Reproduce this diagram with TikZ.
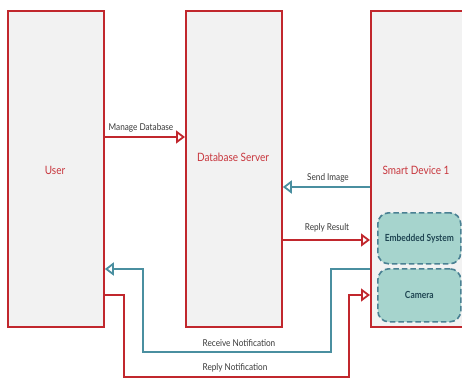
\documentclass[tikz,border=0pt]{standalone}
\usepackage{fontspec}
\setmainfont{Lato}
\usepackage{graphicx}
\usetikzlibrary{arrows.meta}
\definecolor{boxred}{HTML}{C1272D}
\definecolor{boxfill}{HTML}{F2F2F2}
\definecolor{txtred}{HTML}{C8363D}
\definecolor{tealline}{HTML}{4A8FA0}
\definecolor{tealfill}{HTML}{A6D4CD}
\definecolor{tealdash}{HTML}{4A8193}
\definecolor{tealtxt}{HTML}{1F4552}
\definecolor{lbl}{HTML}{3A3A3A}
\newcommand{\tallt}[1]{\scalebox{1}[1.15]{#1}}
\begin{document}
\begin{tikzpicture}[x=1pt,y=-1pt,
  lane/.style={draw=boxred,fill=boxfill,line width=1.8pt,minimum width=96pt,minimum height=316pt,anchor=north west,inner sep=0pt},
  lanetxt/.style={text=txtred,font=\fontsize{10}{12}\selectfont},
  comp/.style={draw=tealdash,fill=tealfill,dash pattern=on 5.5pt off 3pt,line width=1.6pt,rounded corners=11pt,minimum width=83pt,anchor=north west,inner sep=0pt,text=tealtxt,font=\bfseries\fontsize{8.5}{10}\selectfont},
  redarr/.style={draw=boxred,line width=1.8pt,-{Triangle[open,length=9pt,width=13pt,line width=1.8pt]}},
  tealarr/.style={draw=tealline,line width=1.8pt,-{Triangle[open,length=9pt,width=13pt,line width=1.8pt]}},
  lab/.style={text=lbl,font=\fontsize{8.2}{9}\selectfont,inner sep=1pt}
]
\useasboundingbox (0,0) rectangle (462,379);
\clip (0,0) rectangle (462,379);
\fill[white] (0,0) rectangle (462,379);
% lanes
\node[lane] (user) at (7,10) {};
\node[lane] (db) at (185,10) {};
\node[lane,minimum width=110pt] (dev) at (370,10) {};
\node[lanetxt] (usertxt) at (55,170) {\tallt{User}};
\node[lanetxt] (dbtxt) at (233,157) {\tallt{Database Server}};
\node[lanetxt] (devtxt) at (416,170) {\tallt{Smart Device 1}};
% components
\node[comp,minimum height=51pt] (emb) at (377,212) {\scalebox{0.99}[1.15]{Embedded System}};
\node[comp,minimum height=53pt] (cam) at (377,268) {\scalebox{0.99}[1.15]{Camera}};
% coordinates
\coordinate (u1) at (user.north east |- 0,137);
\coordinate (d1) at (db.north west |- 0,137);
\coordinate (d2) at (db.north east |- 0,187);
\coordinate (s2) at (dev.north west |- 0,187);
\coordinate (d3) at (db.north east |- 0,240);
\coordinate (s3) at (dev.north west |- 0,240);
\coordinate (s4) at (dev.north west |- 0,269);
\coordinate (u4) at (user.north east |- 0,269);
\coordinate (u5) at (user.north east |- 0,295);
\coordinate (s5) at (dev.north west |- 0,295);
% arrows
\draw[redarr] (u1) -- (d1);
\node[lab,anchor=south] (l1) at (141,133) {\tallt{Manage Database}};
\draw[tealarr] (s2) -- (d2);
\node[lab,anchor=south] (l2) at (328,183) {\tallt{Send Image}};
\draw[redarr] (d3) -- (s3);
\node[lab,anchor=south] (l3) at (327,233) {\tallt{Reply Result}};
\draw[tealarr] (s4) -- (331,269) -- (331,352) -- (143,352) -- (143,269) -- (u4);
\node[lab,anchor=south] (l4) at (239,348) {\tallt{Receive Notification}};
\draw[redarr] (u5) -- (124,295) -- (124,377) -- (349,377) -- (349,295) -- (s5);
\node[lab,anchor=south] (l5) at (235,373) {\tallt{Reply Notification}};
\end{tikzpicture}
\end{document}
